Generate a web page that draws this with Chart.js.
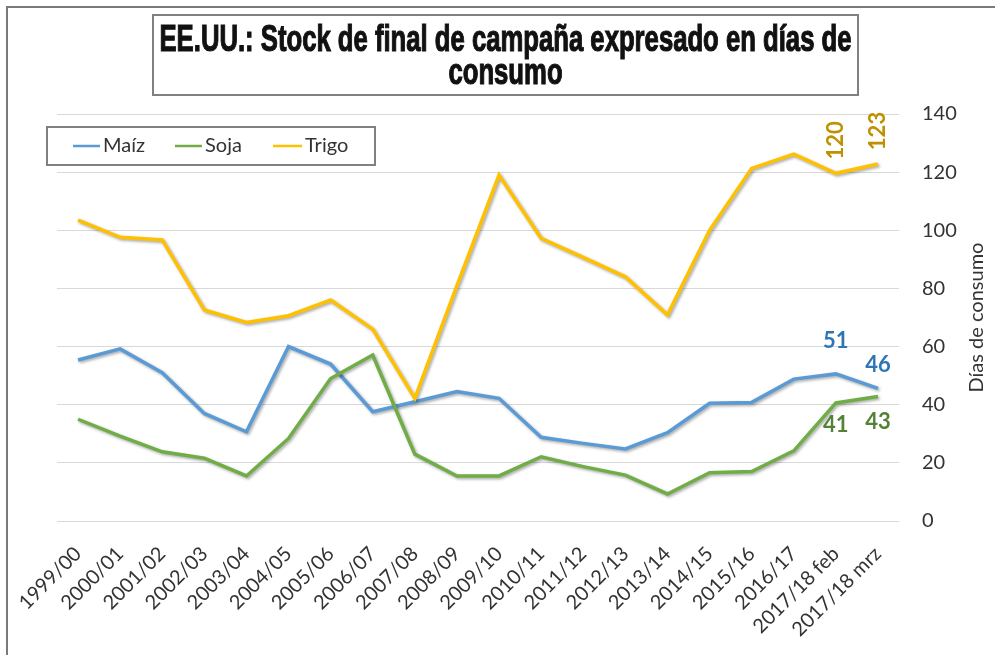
<!DOCTYPE html>
<html>
<head>
<meta charset="utf-8">
<script src="https://cdn.jsdelivr.net/npm/chart.js@4.4.1/dist/chart.umd.min.js"></script>
<style>
  html, body { margin: 0; padding: 0; background: #fff; }
  #wrap { width: 995px; height: 655px; position: relative; }
</style>
</head>
<body>
<div id="wrap"><canvas id="chart" width="995" height="655"></canvas></div>
<script>
const categories = ['1999/00', '2000/01', '2001/02', '2002/03', '2003/04', '2004/05', '2005/06', '2006/07', '2007/08', '2008/09',
  '2009/10', '2010/11', '2011/12', '2012/13', '2013/14', '2014/15', '2015/16', '2016/17', '2017/18 feb', '2017/18 mrz'];
const maiz = [55.4, 59.2, 51, 37, 30.7, 60, 54, 37.6, 41, 44.5, 42.2, 28.8, 26.7, 24.8, 30.4, 40.5, 40.8, 48.8, 50.6, 45.6];
const soja = [35, 29.2, 23.8, 21.6, 15.5, 28.4, 49, 57.1, 23, 15.5, 15.5, 22.1, 18.7, 15.8, 9.3, 16.6, 17, 24.1, 40.6, 42.8];
const trigo = [103.5, 97.6, 96.7, 72.6, 68.3, 70.6, 76, 66, 42.2, 81, 119, 97.2, 90.7, 84, 70.9, 100, 121.3, 126.2, 119.6, 122.8];
const labelled = [18, 19];
const titleLines = ['EE.UU.: Stock de final de campaña expresado en días de', 'consumo'];
const yTitle = 'Días de consumo';

const FONT = 'Lato, "Liberation Sans", sans-serif';
const TXT = '#333333';

const series = [
  { label: 'Maíz', data: maiz, color: '#5B9BD5', labelColor: '#2E75B6', where: 'above' },
  { label: 'Soja', data: soja, color: '#70AD47', labelColor: '#548235', where: 'below' },
  { label: 'Trigo', data: trigo, color: '#FFC000', labelColor: '#BF9000', where: 'vertical' },
];

const shadow = {
  id: 'shadow',
  beforeDatasetsDraw(chart) {
    const ctx = chart.ctx;
    ctx.save();
    ctx.shadowColor = 'rgba(0,0,0,0.35)';
    ctx.shadowBlur = 3;
    ctx.shadowOffsetX = 1.5;
    ctx.shadowOffsetY = 1.5;
  },
  afterDatasetsDraw(chart) {
    chart.ctx.restore();
  },
};

const decor = {
  id: 'decor',
  afterDraw(chart) {
    const ctx = chart.ctx;
    const area = chart.chartArea;
    ctx.save();

    // outer frame (top and left edges)
    ctx.strokeStyle = '#7a7a7a';
    ctx.lineWidth = 2;
    ctx.beginPath();
    ctx.moveTo(7, chart.height);
    ctx.lineTo(7, 7);
    ctx.lineTo(chart.width, 7);
    ctx.stroke();

    // title box
    ctx.strokeStyle = '#808080';
    ctx.lineWidth = 2;
    ctx.strokeRect(153, 15, 705, 80);
    ctx.font = 'bold 32px "Liberation Sans Narrow", sans-serif';
    const w = ctx.measureText(titleLines[0]).width;
    const sx = 692 / w;
    ctx.fillStyle = '#111';
    ctx.textAlign = 'center';
    ctx.textBaseline = 'alphabetic';
    [[titleLines[0], 51], [titleLines[1], 84]].forEach(([t, y]) => {
      ctx.save();
      ctx.translate(505.5, y);
      ctx.scale(sx, 1.18);
      ctx.fillText(t, 0, 0);
      ctx.strokeStyle = '#111';
      ctx.lineWidth = 1;
      ctx.strokeText(t, 0, 0);
      ctx.restore();
    });

    // legend
    ctx.fillStyle = '#fff';
    ctx.fillRect(47, 127, 328, 38);
    ctx.strokeStyle = '#808080';
    ctx.strokeRect(47, 127, 328, 38);
    const items = [[73, 103], [175, 205], [273, 305]];
    ctx.font = '20px ' + FONT;
    ctx.textAlign = 'left';
    ctx.textBaseline = 'middle';
    series.forEach((s, i) => {
      const [lx, tx] = items[i];
      ctx.strokeStyle = s.color;
      ctx.lineWidth = 2.5;
      ctx.beginPath();
      ctx.moveTo(lx, 146);
      ctx.lineTo(tx - 3, 146);
      ctx.stroke();
      ctx.fillStyle = TXT;
      ctx.fillText(s.label, tx, 146);
    });

    // y axis title
    ctx.save();
    ctx.translate(977, (area.top + area.bottom) / 2);
    ctx.rotate(-Math.PI / 2);
    ctx.font = '20px ' + FONT;
    ctx.fillStyle = TXT;
    ctx.textAlign = 'center';
    ctx.textBaseline = 'middle';
    ctx.fillText(yTitle, 0, 0);
    ctx.restore();

    // data labels
    ctx.font = 'bold 22px ' + FONT;
    series.forEach((s, di) => {
      const meta = chart.getDatasetMeta(di);
      labelled.forEach((idx) => {
        const pt = meta.data[idx];
        const text = String(Math.round(s.data[idx]));
        ctx.fillStyle = s.labelColor;
        ctx.textAlign = 'center';
        ctx.textBaseline = 'middle';
        if (s.where === 'vertical') {
          ctx.save();
          ctx.translate(pt.x, pt.y - 33);
          ctx.rotate(-Math.PI / 2);
          ctx.fillText(text, 0, 0);
          ctx.restore();
        } else if (s.where === 'above') {
          ctx.fillText(text, pt.x, pt.y - (idx === 18 ? 33 : 24));
        } else {
          ctx.fillText(text, pt.x, pt.y + (idx === 18 ? 22 : 25));
        }
      });
    });

    ctx.restore();
  },
};

const chart = new Chart(document.getElementById('chart'), {
  type: 'line',
  data: {
    labels: categories,
    datasets: series.map((s, i) => ({
      label: s.label,
      data: s.data,
      borderColor: s.color,
      backgroundColor: s.color,
      borderWidth: 3.5,
      pointRadius: 0,
      tension: 0,
      order: 3 - i,
    })),
  },
  options: {
    responsive: false,
    animation: false,
    layout: { padding: { left: 55, top: 114, right: 0, bottom: 0 } },
    plugins: { legend: { display: false }, title: { display: false }, tooltip: { enabled: false } },
    scales: {
      x: {
        offset: true,
        grid: { display: false, drawTicks: false },
        border: { display: false },
        ticks: {
          autoSkip: false, minRotation: 45, maxRotation: 45, padding: 21,
          color: TXT, font: { family: FONT, size: 20 },
        },
        afterFit(scale) { scale.height = 134; },
      },
      y: {
        position: 'right',
        min: 0, max: 140,
        grid: { color: '#D9D9D9', lineWidth: 1, drawTicks: false },
        border: { display: false },
        ticks: { stepSize: 20, padding: 23, color: TXT, font: { family: FONT, size: 20 } },
        afterFit(scale) { scale.width = 96; },
      },
    },
  },
  plugins: [shadow, decor],
});
</script>
</body>
</html>
